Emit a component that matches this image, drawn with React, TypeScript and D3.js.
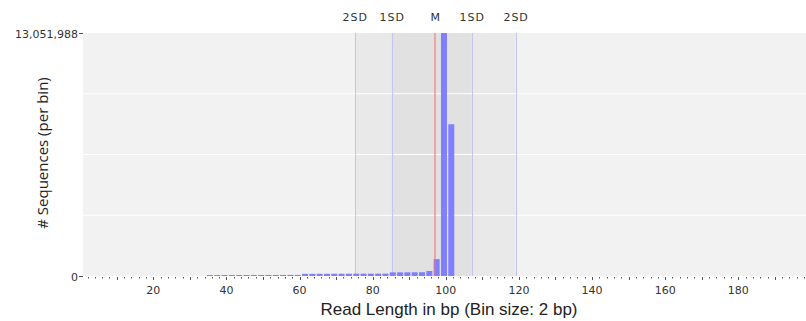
import React, { useEffect, useRef } from "react";
import * as d3 from "d3";

const binCenters = [
  35.5, 37.5, 39.5, 41.5, 43.5, 45.5, 47.5, 49.5, 51.5, 53.5, 55.5, 57.5, 59.5,
  61.5, 63.5, 65.5, 67.5, 69.5, 71.5, 73.5, 75.5, 77.5, 79.5, 81.5, 83.5,
  85.5, 87.5, 89.5, 91.5, 93.5, 95.5, 97.5, 99.5, 101.5,
];
const binCounts = [
  52000, 52000, 53000, 53000, 54000, 54000, 55000, 55000, 56000, 56000, 57000, 57000, 58000,
  118000, 119000, 120000, 121000, 122000, 123000, 124000, 125000, 126000, 127000, 128000, 129000,
  195000, 197000, 199000, 201000, 203000, 270000, 910000, 13051988, 8150000,
];
const yMax = 13051988;
const yTickValues = [0, 13051988];
const xTickLabels = [20, 40, 60, 80, 100, 120, 140, 160, 180];
const markerLabels = ["2SD", "1SD", "M", "1SD", "2SD"];
const markerValues = [75.1, 85.2, 97.1, 107.1, 119.1];

export default function App() {
  const ref = useRef<SVGSVGElement | null>(null);
  useEffect(() => {
    const left = 83, right = 806, top = 33, bottom = 276;
    const svg = d3.select(ref.current);
    svg.selectAll("*").remove();
    const x = d3.scaleLinear().domain([0, 200]).range([80.2, 80.2 + 200 * 3.656]);
    const y = d3.scaleLinear().domain([0, yMax]).range([bottom, top]);
    const font = "'DejaVu Sans', sans-serif";

    const defs = svg.append("defs");
    defs.append("clipPath").attr("id", "plotclip").append("rect")
      .attr("x", left).attr("y", top - 1).attr("width", right - left).attr("height", bottom - top + 1);

    const g = svg.append("g").attr("clip-path", "url(#plotclip)");
    g.append("rect").attr("x", left).attr("y", top).attr("width", right - left)
      .attr("height", bottom - top).attr("fill", "#f2f2f2");
    // SD bands
    g.append("rect").attr("x", x(markerValues[0])).attr("y", top)
      .attr("width", x(markerValues[4]) - x(markerValues[0]))
      .attr("height", bottom - top).attr("fill", "#e9e9e9");
    g.append("rect").attr("x", x(markerValues[1])).attr("y", top)
      .attr("width", x(markerValues[3]) - x(markerValues[1]))
      .attr("height", bottom - top).attr("fill", "#e1e1e1");
    // gridlines
    [0.25, 0.5, 0.75].forEach((f) => {
      g.append("line").attr("x1", left).attr("x2", right)
        .attr("y1", y(yMax * f)).attr("y2", y(yMax * f))
        .attr("stroke", "#ffffff").attr("stroke-width", 1);
    });
    // SD lines
    markerValues.forEach((v, i) => {
      if (markerLabels[i] === "M") return;
      const xv = Math.round(x(v)) + 0.5;
      g.append("line").attr("x1", xv).attr("x2", xv).attr("y1", top).attr("y2", bottom)
        .attr("stroke", "#c4c4f2").attr("stroke-width", 1);
    });
    // bars
    g.selectAll("rect.bar").data(binCenters).enter().append("rect")
      .attr("class", "bar")
      .attr("x", (c) => x(c - 0.82))
      .attr("width", () => x(1.64) - x(0))
      .attr("y", (_, i) => y(binCounts[i]))
      .attr("height", (_, i) => bottom - y(binCounts[i]))
      .attr("fill", "#8080ff");
    // mean line
    const mx = Math.round(x(markerValues[2]));
    g.append("line").attr("x1", mx).attr("x2", mx).attr("y1", top).attr("y2", bottom)
      .attr("stroke", "#f47676").attr("stroke-width", 1.1);

    // marker labels
    markerValues.forEach((v, i) => {
      svg.append("text").attr("x", x(v) + 0.5).attr("y", 21)
        .attr("text-anchor", "middle").attr("font-family", font).attr("font-size", 11)
        .attr("letter-spacing", "1px").attr("fill", "#333").text(markerLabels[i]);
    });

    // y axis ticks
    yTickValues.forEach((v) => {
      const yy = Math.round(y(v)) + 0.5;
      svg.append("line").attr("x1", 79).attr("x2", 83).attr("y1", yy).attr("y2", yy)
        .attr("stroke", "#555");
      svg.append("text").attr("x", 78).attr("y", yy + 4).attr("text-anchor", "end")
        .attr("font-family", font).attr("font-size", 11).attr("fill", "#333")
        .text(d3.format(",")(v));
    });

    // x axis ticks
    const minorTicks = d3.range(2, 200, 2);
    minorTicks.forEach((v) => {
      const xx = Math.round(x(v)) + 0.5;
      if (xx < left || xx > right) return;
      const major = v % 10 === 0;
      svg.append("line").attr("x1", xx).attr("x2", xx).attr("y1", bottom + 1)
        .attr("y2", bottom + (major ? 4 : 2.5)).attr("stroke", "#555").attr("stroke-width", 1);
    });
    xTickLabels.forEach((v) => {
      svg.append("text").attr("x", x(v)).attr("y", bottom + 18).attr("text-anchor", "middle")
        .attr("font-family", font).attr("font-size", 11).attr("fill", "#333").text(String(v));
    });

    // titles
    svg.append("text").attr("x", 449).attr("y", 315).attr("text-anchor", "middle")
      .attr("font-family", "'Liberation Sans', Arial, sans-serif").attr("font-size", 17).attr("fill", "#222")
      .text("Read Length in bp (Bin size: 2 bp)");
    svg.append("text").attr("transform", "translate(48,153) rotate(-90)")
      .attr("text-anchor", "middle")
      .attr("font-family", "'Open Sans', sans-serif").attr("font-size", 15).attr("fill", "#222")
      .text("# Sequences (per bin)");
  }, []);
  return (
    <svg ref={ref} width={806} height={321}
      style={{ position: "absolute", left: 0, top: 0, background: "#fff" }} />
  );
}
